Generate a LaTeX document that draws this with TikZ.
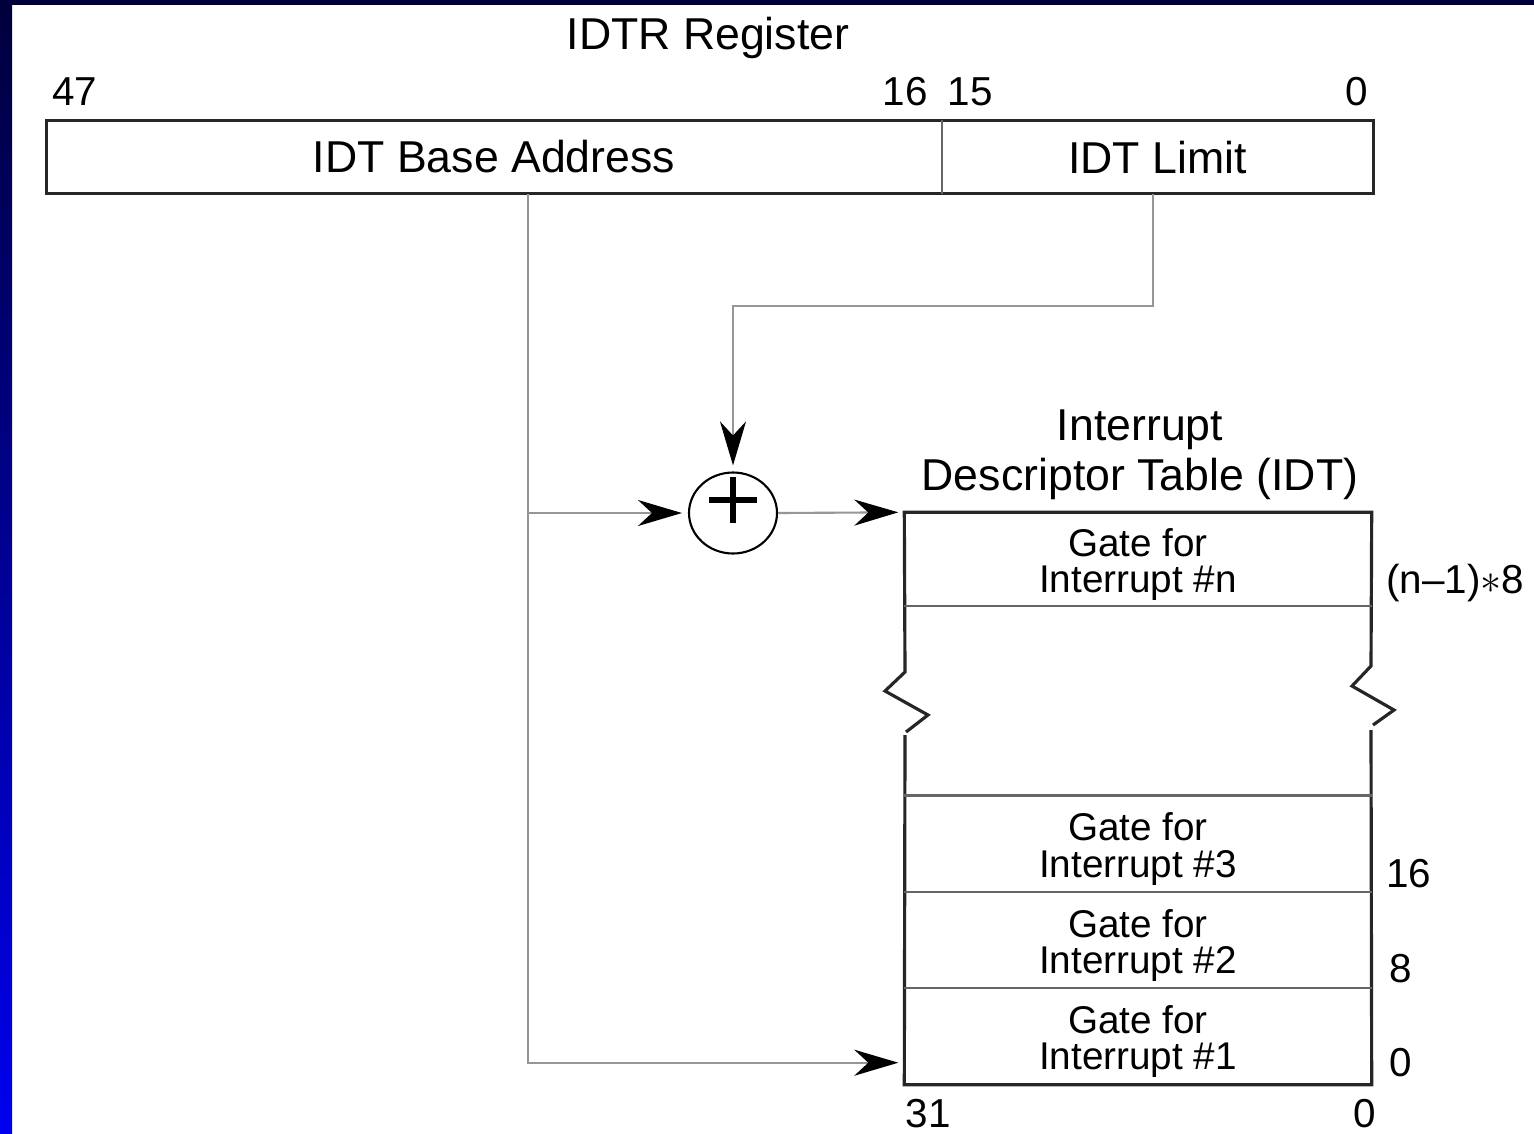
\documentclass[tikz,border=0pt]{standalone}
\usepackage{fontspec}
\setmainfont{Liberation Sans}
\usetikzlibrary{arrows.meta,positioning,shapes.geometric}
\definecolor{slidenavy}{RGB}{0,0,60}
\definecolor{slideblue}{RGB}{0,0,238}
\definecolor{wiregray}{RGB}{150,150,150}
\newcommand{\gatestrut}{\rule{0pt}{11pt}}
\begin{document}
\begin{tikzpicture}[x=0.1mm, y=-0.1mm, every node/.style={align=center},
    big/.style={font=\fontsize{12.7}{14.2}\selectfont},
    num/.style={font=\fontsize{11.5}{13}\selectfont},
    field/.style={big, minimum height=7.2mm, inner sep=0pt},
    gate/.style={font=\fontsize{11}{10.3}\selectfont, minimum width=46.6mm, minimum height=9.5mm, inner sep=0pt},
    wire/.style={draw=wiregray, line width=0.6pt},
    tip/.style={-{Stealth[length=4.4mm, width=2.6mm, inset=1.4mm, color=black]}, shorten >=0.6mm},
    edge/.style={line width=0.9pt, draw=black!85},
    sep/.style={line width=0.6pt, draw=black!60}]
    \useasboundingbox (0,0) rectangle (1534,1133);
    \fill[white] (0,0) rectangle (1534,1133);
    \shade[top color=slidenavy, bottom color=slideblue] (0,0) rectangle (12,1133);
    \fill[slidenavy] (0,0) rectangle (1534,5);

    \node[big] (title) at (708,38) {IDTR Register};
    \node[field, minimum width=89.4mm] (base) at (494,157) {IDT Base Address};
    \node[field, minimum width=43mm, anchor=west] (limit) at (base.east) {IDT Limit};
    \draw[edge] (base.north west) rectangle (limit.south east);
    \draw[sep] (base.north east) -- (base.south east);
    \node[num] (b47) at (75,92) {47};
    \node[num] (b16) at (905,92) {16};
    \node[num] (b15) at (970,92) {15};
    \node[num] (b0) at (1357,92) {0};

    \node[draw, ellipse, line width=0.6pt, minimum width=8.8mm, minimum height=8.1mm, inner sep=0pt] (adder) at (733,513) {};
    \draw[line width=1.8pt] ([shift={(-24,-13)}]adder.center) -- ++(48,0);
    \draw[line width=1.8pt] ([shift={(0,-36)}]adder.center) -- ++(0,46);

    \node[big] (idt) at (1140,455) {Interrupt\\Descriptor Table (IDT)};
    \node[gate] (gate1) at (1138,1036.5) {\gatestrut Gate for\\Interrupt \#1};
    \node[gate, above=0pt of gate1] (gate2) {\gatestrut Gate for\\Interrupt \#2};
    \node[gate, above=0pt of gate2] (gate3) {\gatestrut Gate for\\Interrupt \#3};
    \node[gate, minimum height=9.2mm] (gaten) at (1138,559) {\gatestrut Gate for\\Interrupt \#n};

    \draw[edge] (906,732) -- (928,715) -- (885,691) -- (905,672) -- (gaten.north west)
        -- (gaten.north east) -- (1371,666) -- (1352,686) -- (1394,710) -- (1373,725);
    \draw[edge] (905,735) -- (gate1.south west) -- (gate1.south east) -- (1371,730);
    \draw[sep] (gaten.south west) -- (gaten.south east);
    \draw[sep] (gate3.north west) -- (gate3.north east);
    \draw[sep] (gate2.north west) -- (gate2.north east);
    \draw[sep] (gate1.north west) -- (gate1.north east);

    \node[num, anchor=west] (offn) at ([shift={(2,-23)}]gaten.south east) {(n--1)$\ast$8};
    \node[num, anchor=west] (off16) at ([shift={(2,-18)}]gate3.south east) {16};
    \node[num, anchor=west] (off8) at ([shift={(5,-20)}]gate2.south east) {8};
    \node[num, anchor=west] (off0) at ([shift={(5,-22)}]gate1.south east) {0};
    \node[num] (t31) at ([shift={(24,29)}]gate1.south west) {31};
    \node[num] (t0) at ([shift={(-7,29)}]gate1.south east) {0};

    \coordinate (tap) at ([xshift=3.4mm]base.south |- adder.west);
    \draw[wire, tip] ([xshift=3.4mm]base.south) |- ([yshift=2.2mm]gate1.south west);
    \draw[wire, tip] (tap) -- (adder.west);
    \draw[wire, tip] (adder.east) -- (gaten.north west);
    \draw[wire, tip] ([xshift=-0.4mm]limit.south) -- ++(0,112) -| (adder.north);
\end{tikzpicture}
\end{document}
